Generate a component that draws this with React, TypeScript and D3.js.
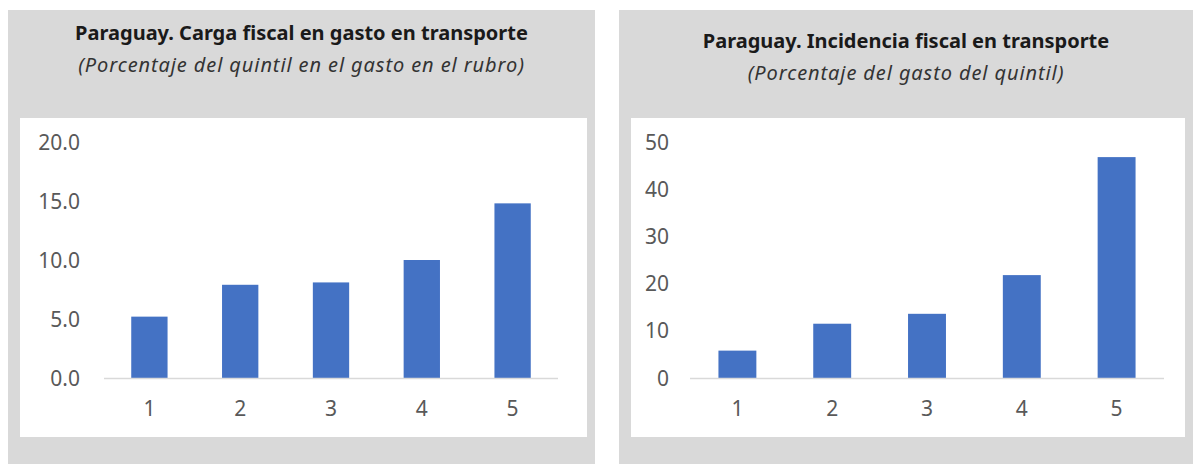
import React from 'react';
import * as d3 from 'd3';

const quintiles = ['1', '2', '3', '4', '5'];
const cargaFiscal = [5.2, 7.9, 8.1, 10.0, 14.8];
const incidenciaFiscal = [5.8, 11.5, 13.6, 21.8, 46.8];
const cargaTicks = [0, 5, 10, 15, 20];
const incidenciaTicks = [0, 10, 20, 30, 40, 50];

const FONT = '"Noto Sans", "Open Sans", sans-serif';

function Panel(props) {
    const { x0, width, title, subtitle, titleY, values, ticks, fmt, plotLeft, plotRight, labelX } = props;
    const yScale = d3.scaleLinear().domain([0, ticks[ticks.length - 1]]).range([378, 142]);
    const xScale = d3.scaleBand().domain(quintiles).range([plotLeft, plotRight]).paddingInner(0.6).paddingOuter(0.3);
    const cx = x0 + width / 2;

    return (
        <g>
            <rect x={x0} y={10} width={width} height={454} fill="#d9d9d9" />
            <rect x={x0 + 12} y={118} width={width - 20} height={319} fill="#ffffff" />
            <text x={cx} y={titleY} textAnchor="middle" fontFamily={FONT} fontWeight="bold" fontSize={20} fill="#1a1a1a">{title}</text>
            <text x={cx} y={titleY + 32} textAnchor="middle" fontFamily={FONT} fontStyle="italic" fontSize={20} letterSpacing={0.9} fill="#333">{subtitle}</text>
            {ticks.map((t, i) => (
                <text key={i} x={labelX} y={yScale(t)} dy="0.36em" textAnchor="end" fontFamily={FONT} fontSize={21} fill="#595959">{fmt(t)}</text>
            ))}
            {values.map((v, i) => (
                <rect key={i} x={xScale(quintiles[i])} y={yScale(v)} width={xScale.bandwidth()} height={378 - yScale(v)} fill="#4472c4" />
            ))}
            <line x1={plotLeft} x2={plotRight} y1={378.5} y2={378.5} stroke="#d9d9d9" strokeWidth={1.5} />
            {quintiles.map((q, i) => (
                <text key={i} x={xScale(q) + xScale.bandwidth() / 2} y={408} dy="0.36em" textAnchor="middle" fontFamily={FONT} fontSize={21} fill="#595959">{q}</text>
            ))}
        </g>
    );
}

export default function App() {
    return (
        <svg width={1193} height={464} style={{ position: 'absolute', left: 0, top: 0, background: '#fff' }}>
            <Panel
                x0={8} width={587} titleY={40}
                title="Paraguay. Carga fiscal en gasto en transporte"
                subtitle="(Porcentaje del quintil en el gasto en el rubro)"
                values={cargaFiscal} ticks={cargaTicks} fmt={d => d.toFixed(1)}
                plotLeft={104} plotRight={558} labelX={80}
            />
            <Panel
                x0={619} width={574} titleY={48}
                title="Paraguay. Incidencia fiscal en transporte"
                subtitle="(Porcentaje del gasto del quintil)"
                values={incidenciaFiscal} ticks={incidenciaTicks} fmt={d => d.toFixed(0)}
                plotLeft={690} plotRight={1164} labelX={669}
            />
        </svg>
    );
}
